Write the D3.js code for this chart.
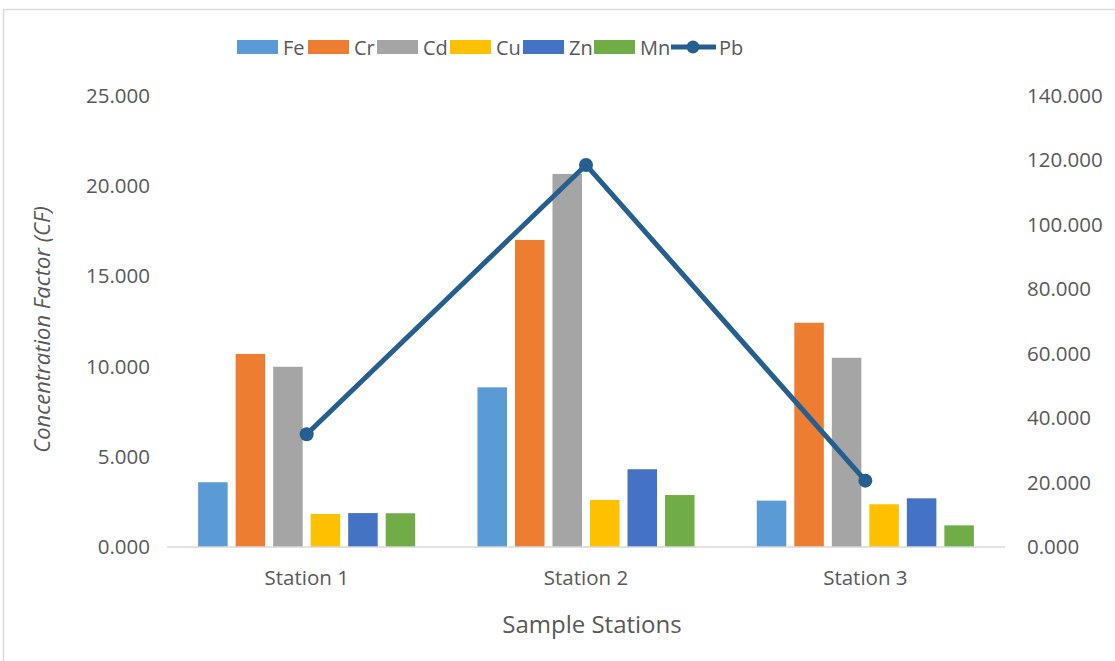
<!DOCTYPE html>
<html>
<head>
<meta charset="utf-8">
<script src="https://cdn.jsdelivr.net/npm/d3@7"></script>
<style>
  html, body { margin: 0; padding: 0; background: #fff; }
  svg { display: block; font-family: "Open Sans", sans-serif; }
</style>
</head>
<body>
<svg id="chart" width="1115" height="661"></svg>
<script>
// Sample stations and heavy-metal concentration factors
const stations = ["Station 1", "Station 2", "Station 3"];
const metals = ["Fe", "Cr", "Cd", "Cu", "Zn", "Mn"];
const feValues = [3.59, 8.85, 2.57];
const crValues = [10.70, 17.02, 12.43];
const cdValues = [9.99, 20.68, 10.49];
const cuValues = [1.83, 2.61, 2.37];
const znValues = [1.88, 4.31, 2.70];
const mnValues = [1.87, 2.88, 1.20];
const pbValues = [35.0, 118.6, 20.6];
const leftTicks = [0, 5, 10, 15, 20, 25];
const rightTicks = [0, 20, 40, 60, 80, 100, 120, 140];

const metalColors = ["#5B9BD5", "#ED7D31", "#A5A5A5", "#FFC000", "#4472C4", "#70AD47"];
const pbColor = "#255E91";
const textColor = "#595959";

const seriesValues = [feValues, crValues, cdValues, cuValues, znValues, mnValues];
const rows = stations.map((s, i) => ({
  station: s,
  values: metals.map((m, j) => ({ metal: m, value: seriesValues[j][i] }))
}));

const svg = d3.select("#chart");

// outer frame
svg.append("rect")
  .attr("x", 3.5).attr("y", 9.5)
  .attr("width", 1200).attr("height", 700)
  .attr("fill", "none").attr("stroke", "#d9d9d9").attr("stroke-width", 1.5);

const plot = { left: 167, right: 1005, top: 96, bottom: 547 };

const x0 = d3.scaleBand().domain(stations).range([plot.left, plot.right]).padding(0);
const x1 = d3.scaleBand().domain(metals).range([0, x0.bandwidth()])
  .paddingInner(0.213).paddingOuter(0.83);
const yL = d3.scaleLinear().domain([0, 25]).range([plot.bottom, plot.top]);
const yR = d3.scaleLinear().domain([0, 140]).range([plot.bottom, plot.top]);

const fmt = d3.format(".3f");
const tickFont = "20.5px";

// left axis labels
const leftAxis = svg.append("g")
  .attr("transform", `translate(${plot.left},0)`)
  .call(d3.axisLeft(yL).tickValues(leftTicks).tickFormat(fmt).tickSize(0).tickPadding(17));
leftAxis.select(".domain").remove();
leftAxis.selectAll("text").attr("fill", textColor)
  .style("font-size", tickFont).style("font-family", "'Open Sans', sans-serif");

// right axis labels
const rightAxis = svg.append("g")
  .attr("transform", `translate(${plot.right},0)`)
  .call(d3.axisRight(yR).tickValues(rightTicks).tickFormat(fmt).tickSize(0).tickPadding(22));
rightAxis.select(".domain").remove();
rightAxis.selectAll("text").attr("fill", textColor)
  .style("font-size", tickFont).style("font-family", "'Open Sans', sans-serif");

// bars
const groups = svg.append("g").selectAll("g")
  .data(rows).join("g")
  .attr("transform", d => `translate(${x0(d.station)},0)`);
groups.selectAll("rect")
  .data(d => d.values).join("rect")
  .attr("x", d => x1(d.metal))
  .attr("width", x1.bandwidth())
  .attr("y", d => yL(d.value))
  .attr("height", d => yL(0) - yL(d.value))
  .attr("fill", (d, i) => metalColors[i]);

// baseline
svg.append("line")
  .attr("x1", plot.left).attr("x2", plot.right)
  .attr("y1", yL(0)).attr("y2", yL(0))
  .attr("stroke", "#d9d9d9").attr("stroke-width", 1.5);

// Pb line on the secondary axis
const pbPoints = stations.map((s, i) => ({ station: s, value: pbValues[i] }));
const line = d3.line()
  .x(d => x0(d.station) + x0.bandwidth() / 2)
  .y(d => yR(d.value));
svg.append("path")
  .datum(pbPoints)
  .attr("d", line)
  .attr("fill", "none")
  .attr("stroke", pbColor)
  .attr("stroke-width", 5)
  .attr("stroke-linejoin", "round");
svg.append("g").selectAll("circle")
  .data(pbPoints).join("circle")
  .attr("cx", d => x0(d.station) + x0.bandwidth() / 2)
  .attr("cy", d => yR(d.value))
  .attr("r", 7)
  .attr("fill", pbColor);

// category labels
const xAxis = svg.append("g")
  .attr("transform", `translate(0,${plot.bottom})`)
  .call(d3.axisBottom(x0).tickSize(0).tickPadding(0));
xAxis.select(".domain").remove();
xAxis.selectAll("text")
  .attr("dy", null).attr("y", 38)
  .attr("fill", textColor)
  .style("font-size", tickFont).style("font-family", "'Open Sans', sans-serif");

// axis titles
svg.append("text")
  .attr("transform", `translate(50,${(plot.top + plot.bottom) / 2 + 8}) rotate(-90)`)
  .attr("text-anchor", "middle")
  .attr("fill", textColor)
  .style("font-size", "22px")
  .style("font-style", "italic")
  .text("Concentration Factor (CF)");

svg.append("text")
  .attr("x", 592).attr("y", 633)
  .attr("text-anchor", "middle")
  .attr("fill", textColor)
  .style("font-size", "24px")
  .text("Sample Stations");

// legend
const legendItems = metals.map((m, i) => ({ name: m, color: metalColors[i], type: "bar" }))
  .concat([{ name: "Pb", color: pbColor, type: "line" }]);
const legendX = [237, 308, 377, 450, 523, 594, 671];
const legend = svg.append("g");
legendItems.forEach((d, i) => {
  const g = legend.append("g").attr("transform", `translate(${legendX[i]},47)`);
  if (d.type === "bar") {
    g.append("rect").attr("x", 0).attr("y", -7).attr("width", 41).attr("height", 14).attr("fill", d.color);
    g.append("text").attr("x", 46).attr("y", 7.5).attr("fill", textColor).style("font-size", "20px").text(d.name);
  } else {
    g.append("line").attr("x1", 0).attr("x2", 45).attr("y1", 0).attr("y2", 0)
      .attr("stroke", d.color).attr("stroke-width", 5);
    g.append("circle").attr("cx", 22).attr("cy", 0).attr("r", 6.5).attr("fill", d.color);
    g.append("text").attr("x", 48).attr("y", 7.5).attr("fill", textColor).style("font-size", "20px").text(d.name);
  }
});
</script>
</body>
</html>
